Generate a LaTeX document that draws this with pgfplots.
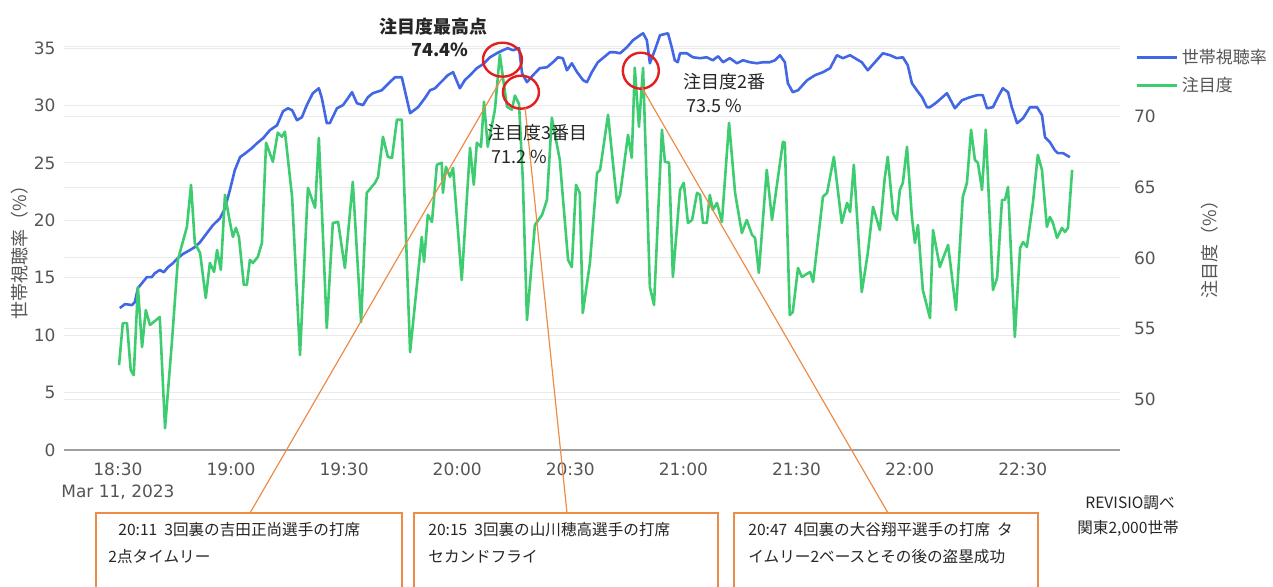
\documentclass[border=0pt]{standalone}
\usepackage{fontspec}
\setmainfont{DejaVu Sans}
\newfontfamily\jp{Noto Sans CJK JP}
\usepackage{pgfplots}
\usepackage{pgfplotstable}
\pgfplotsset{compat=1.18}
\definecolor{cblue}{RGB}{66,103,228}
\definecolor{cgreen}{RGB}{62,204,112}
\definecolor{cred}{RGB}{226,30,30}
\definecolor{corange}{RGB}{236,140,70}
\definecolor{cgrid}{RGB}{234,234,234}
\definecolor{ctick}{RGB}{85,85,85}
\newcommand\fs[1]{\fontsize{#1}{#1}\selectfont}

% minutes after 18:30, household rating (%)
\pgfplotstableread{
m v
0.5 12.36
1.9 12.71
3.7 12.62
4.5 12.88
5.3 14.10
6.6 14.62
7.7 15.06
9.0 15.06
9.8 15.40
11.1 15.67
12.2 15.49
13.3 15.93
14.6 16.27
15.9 16.71
17.2 17.06
19.1 17.41
20.4 17.67
21.8 18.10
23.6 18.89
25.2 19.58
27.1 20.19
28.4 21.06
29.7 22.63
31.0 24.37
32.4 25.50
34.2 25.94
35.5 26.28
36.9 26.72
38.5 27.15
40.3 27.85
42.2 28.28
43.8 29.50
45.1 29.76
46.2 29.59
47.5 28.72
48.8 28.98
50.1 30.03
51.7 31.07
53.3 31.50
54.1 30.63
55.4 28.46
56.2 28.46
58.1 29.76
59.7 30.03
61.0 30.63
62.1 31.16
63.4 30.20
65.0 30.03
66.3 30.72
67.6 31.07
70.0 31.33
72.1 32.03
73.5 32.46
75.3 32.46
77.5 29.33
79.6 29.85
81.4 30.63
82.8 31.33
84.1 31.50
85.4 31.94
86.2 32.20
87.5 32.64
88.9 32.90
90.7 31.50
92.0 32.20
93.4 32.64
95.2 33.25
96.8 33.59
98.7 34.20
100.5 34.55
102.1 34.81
103.4 34.99
104.8 34.81
106.4 34.99
107.2 32.81
108.5 32.03
110.1 32.64
111.9 33.25
113.8 33.33
115.4 33.77
116.7 34.20
118.0 34.12
119.1 33.07
120.4 33.68
121.8 32.90
123.4 32.20
124.4 32.03
125.7 32.90
127.3 33.77
128.6 34.12
130.5 34.64
131.8 34.64
133.2 34.55
135.0 35.07
136.6 35.68
138.5 36.12
139.3 36.29
140.3 35.68
141.1 33.68
142.4 34.81
143.8 36.12
145.9 36.29
146.9 35.07
147.7 33.94
148.5 33.77
149.1 34.55
150.9 34.55
152.5 34.20
154.4 34.12
156.2 34.20
157.8 33.94
159.2 34.29
160.5 33.77
162.3 34.12
164.2 33.68
165.8 33.94
167.6 33.77
169.5 33.68
171.1 33.77
172.9 33.77
174.3 33.94
175.6 34.38
176.9 33.77
177.7 31.94
179.0 31.16
180.4 31.33
182.8 32.20
184.9 32.64
187.0 32.90
188.9 33.25
190.7 34.38
192.3 34.12
194.2 34.38
195.5 34.12
197.3 33.77
198.9 33.07
200.8 33.77
202.9 34.55
204.8 34.38
206.6 34.12
208.2 34.20
209.5 33.51
210.6 31.94
211.9 31.33
213.3 30.72
214.6 29.85
215.4 29.85
217.2 30.29
219.9 31.07
222.0 29.76
223.9 30.46
226.0 30.72
227.9 30.90
229.4 30.90
230.5 29.76
232.1 29.85
233.4 30.72
234.7 31.50
236.1 31.16
237.1 29.85
238.5 28.46
240.1 28.89
241.9 29.85
243.8 29.85
245.1 29.16
245.9 27.24
247.2 26.81
248.5 26.11
249.3 25.85
250.7 25.85
252.5 25.50
}\bluedata

% minutes after 18:30, attention rate (%)
\pgfplotstableread{
m r
0.3 52.41
1.3 55.39
2.4 55.39
3.4 52.06
4.2 51.70
5.3 57.94
6.4 53.69
7.4 56.31
8.5 55.25
11.1 55.82
12.5 47.94
14.3 53.97
15.9 59.86
18.3 62.20
19.4 65.18
20.4 61.06
21.8 60.35
23.3 57.16
24.4 59.65
25.5 59.01
26.3 60.57
27.3 59.15
28.4 64.47
29.7 62.55
30.5 61.49
31.3 62.13
32.1 61.49
33.4 58.09
34.2 58.09
35.0 59.86
35.8 59.65
37.1 60.07
38.2 61.06
39.3 68.16
41.1 66.81
42.4 68.87
43.5 68.58
44.3 68.94
46.2 64.33
48.3 53.12
50.4 64.96
52.3 63.55
53.3 68.51
55.4 55.04
57.0 62.48
58.4 62.55
60.2 59.29
62.3 65.39
64.5 55.46
66.0 64.61
68.2 65.32
69.0 65.74
70.3 68.58
71.6 67.16
72.7 67.09
74.0 69.79
75.3 69.79
77.5 53.33
80.6 61.49
81.2 59.72
82.2 63.05
83.3 62.55
84.6 66.60
85.9 66.74
86.2 64.61
87.0 66.45
88.1 65.74
88.9 66.38
91.2 58.44
93.4 67.80
94.4 65.18
95.2 68.16
96.3 67.87
97.1 71.06
98.1 67.87
100.0 70.50
101.3 74.40
102.1 72.84
103.2 70.71
104.5 70.50
105.3 71.50
106.4 70.90
107.4 65.53
108.5 55.60
110.6 62.34
112.5 63.05
113.8 64.11
115.1 69.93
117.2 66.95
119.4 59.86
120.4 59.36
121.5 65.18
122.5 64.61
123.3 56.10
125.2 59.65
127.1 66.02
127.9 66.24
130.0 70.14
132.4 63.90
133.2 64.47
135.3 68.72
136.3 67.09
137.1 73.47
138.2 69.29
139.3 73.47
141.1 57.94
142.2 56.67
144.3 69.08
145.1 66.81
146.2 66.74
147.2 58.65
149.1 64.82
150.1 65.32
151.2 62.48
152.3 62.69
153.6 64.61
154.4 64.47
155.2 62.48
156.2 62.48
157.0 64.47
157.8 63.40
158.9 63.90
160.2 62.55
162.1 69.57
163.7 64.61
165.5 61.77
166.8 62.69
168.2 61.63
169.0 61.42
170.0 58.94
172.1 66.24
173.5 62.69
176.4 68.23
176.9 68.16
178.2 55.96
179.0 56.17
180.4 59.29
181.4 58.65
183.6 59.01
184.4 58.30
187.0 64.33
188.1 64.61
189.9 67.16
192.0 62.48
193.4 63.90
194.2 63.26
195.2 66.60
197.3 57.59
198.1 58.94
198.9 60.35
200.3 63.62
202.1 61.98
203.4 65.67
204.2 67.16
205.6 63.19
206.6 62.69
207.4 64.82
208.2 65.32
209.3 67.87
210.6 62.91
211.4 61.06
212.2 62.34
213.5 57.73
215.4 55.74
216.2 61.98
218.0 59.36
220.2 60.92
222.3 56.31
224.1 64.33
225.2 65.32
226.3 69.08
227.3 66.95
228.1 66.74
229.2 64.82
230.2 69.08
232.1 57.73
233.2 58.58
234.5 64.11
235.3 64.11
236.1 65.03
237.9 54.40
239.3 60.71
240.1 61.13
241.1 60.78
242.7 63.90
244.0 67.30
245.1 66.24
246.4 62.20
247.2 62.91
248.0 62.48
249.1 61.42
250.4 62.13
251.2 61.84
252.0 62.13
253.1 66.24
}\greendata

\pgfplotsset{
  base/.style={
    at={(32pt,-225pt)}, anchor=south west,
    scale only axis, width=528pt, height=209pt,
    xmin=-14.3, xmax=265.8,
    major tick length=0pt,
    tick style={draw=none},
    /pgf/number format/assume math mode=true,
    ticklabel style={font=\fs{8.5}, text=ctick},
  }
}

\begin{document}
\begin{tikzpicture}
\useasboundingbox (0,0) rectangle (636.5pt,-293pt);
\clip (0,0) rectangle (636.5pt,-293pt);

% right-scale grid and labels
\begin{axis}[base,
  ymin=46.4, ymax=76.0,
  axis x line=none, axis y line*=right,
  y axis line style={draw=none},
  ytick={50,55,60,65,70,75}, yticklabels={50,55,60,65,70,{}},
  yticklabel style={xshift=3.5pt},
  ymajorgrids, major grid style={cgrid, line width=0.5pt},
  xtick={0,30,...,240}, xmajorgrids, xticklabels={},
]
\end{axis}

% left-scale axis with household rating
\begin{axis}[base,
  ymin=0, ymax=36.4,
  axis x line*=bottom, axis y line*=left,
  y axis line style={draw=none},
  x axis line style={draw=gray!75, line width=1pt},
  ytick={0,5,...,35},
  yticklabel style={xshift=-0.7pt},
  ymajorgrids, major grid style={cgrid, line width=0.5pt},
  xtick={0,30,...,240},
  xticklabels={18:30,19:00,19:30,20:00,20:30,21:00,21:30,22:00,22:30},
  xticklabel style={yshift=-3pt},
]
\addplot[cblue, line width=1.3pt, line join=round] table[x=m, y=v] {\bluedata};
\end{axis}

% right-scale axis with attention rate
\begin{axis}[base,
  ymin=46.4, ymax=76.0,
  axis lines=none, xtick=\empty, ytick=\empty,
  clip=false,
  legend style={at={(1.014,0.9705)}, anchor=north west, draw=none, fill=white,
    font=\jp\fs{8.5}, text=ctick, row sep=1.5pt, inner sep=0pt,
    legend cell align=left},
  legend image code/.code={\draw[#1] (0pt,0pt) -- (20pt,0pt);},
]
\addlegendimage{cblue, line width=1.3pt}
\addlegendentry{世帯視聴率}
\addplot[cgreen, line width=1.3pt, line join=round] table[x=m, y=r] {\greendata};
\addlegendentry{注目度}
\draw[cred, line width=1.2pt] (axis cs:102.0,74.04) ellipse [x radius=9.75pt, y radius=8.5pt];
\draw[cred, line width=1.2pt] (axis cs:106.9,71.74) ellipse [x radius=9pt, y radius=8.25pt];
\draw[cred, line width=1.2pt] (axis cs:138.7,73.26) ellipse [x radius=9pt, y radius=9pt];
\coordinate (o1) at (axis cs:101.9,72.77);
\coordinate (o2) at (axis cs:108.0,70.64);
\coordinate (o3) at (axis cs:139.0,72.06);
\end{axis}

\begin{scope}[x=0.5pt, y=-0.5pt]
\draw[corange, line width=0.6pt] (o1) -- (250,513);
\draw[corange, line width=0.6pt] (o2) -- (567,513);
\draw[corange, line width=0.6pt] (o3) -- (888,513);

\node[font=\jp\bfseries\fs{9}, text=black!85] at (433,27) {注目度最高点};
\node[font=\jp\bfseries\fs{9}, text=black!85] at (440,50) {74.4\%};
\node[font=\jp\fs{9}, text=black!85, anchor=west, inner sep=0pt] at (487,133) {注目度3番目};
\node[font=\jp\fs{9}, text=black!85, anchor=west, inner sep=0pt] at (491,157) {71.2 \%};
\node[font=\jp\fs{9}, text=black!85, anchor=west, inner sep=0pt] at (683,82) {注目度2番};
\node[font=\jp\fs{9}, text=black!85, anchor=west, inner sep=0pt] at (686,106) {73.5 \%};

\node[font=\fs{8.5}, text=ctick, anchor=west, inner sep=0pt] at (61,492) {Mar 11, 2023};
\node[font=\jp\fs{9}, text=ctick, rotate=90] at (20,248) {世帯視聴率（\%）};
\node[font=\jp\fs{9}, text=ctick, rotate=90] at (1210,245) {注目度（\%）};

\draw[corange, line width=0.7pt, fill=white] (96,513) rectangle (402,620);
\draw[corange, line width=0.7pt, fill=white] (414,513) rectangle (718,620);
\draw[corange, line width=0.7pt, fill=white] (734,513) rectangle (1038,620);
\node[font=\jp\fs{7.8}, text=black!85, anchor=west, inner sep=0pt] at (118,530) {20:11\ \ 3回裏の吉田正尚選手の打席};
\node[font=\jp\fs{7.8}, text=black!85, anchor=west, inner sep=0pt] at (108,557) {2点タイムリー};
\node[font=\jp\fs{7.8}, text=black!85, anchor=west, inner sep=0pt] at (428,530) {20:15\ \ 3回裏の山川穂高選手の打席};
\node[font=\jp\fs{7.8}, text=black!85, anchor=west, inner sep=0pt] at (428,557) {セカンドフライ};
\node[font=\jp\fs{7.8}, text=black!85, anchor=west, inner sep=0pt] at (748,530) {20:47\ \ 4回裏の大谷翔平選手の打席\ \ タ};
\node[font=\jp\fs{7.8}, text=black!85, anchor=west, inner sep=0pt] at (748,557) {イムリー2ベースとその後の盗塁成功};

\node[font=\jp\fs{7.8}, text=black!85] at (1130,503) {REVISIO調べ};
\node[font=\jp\fs{7.8}, text=black!85] at (1128,528) {関東2,000世帯};
\end{scope}
\end{tikzpicture}
\end{document}
